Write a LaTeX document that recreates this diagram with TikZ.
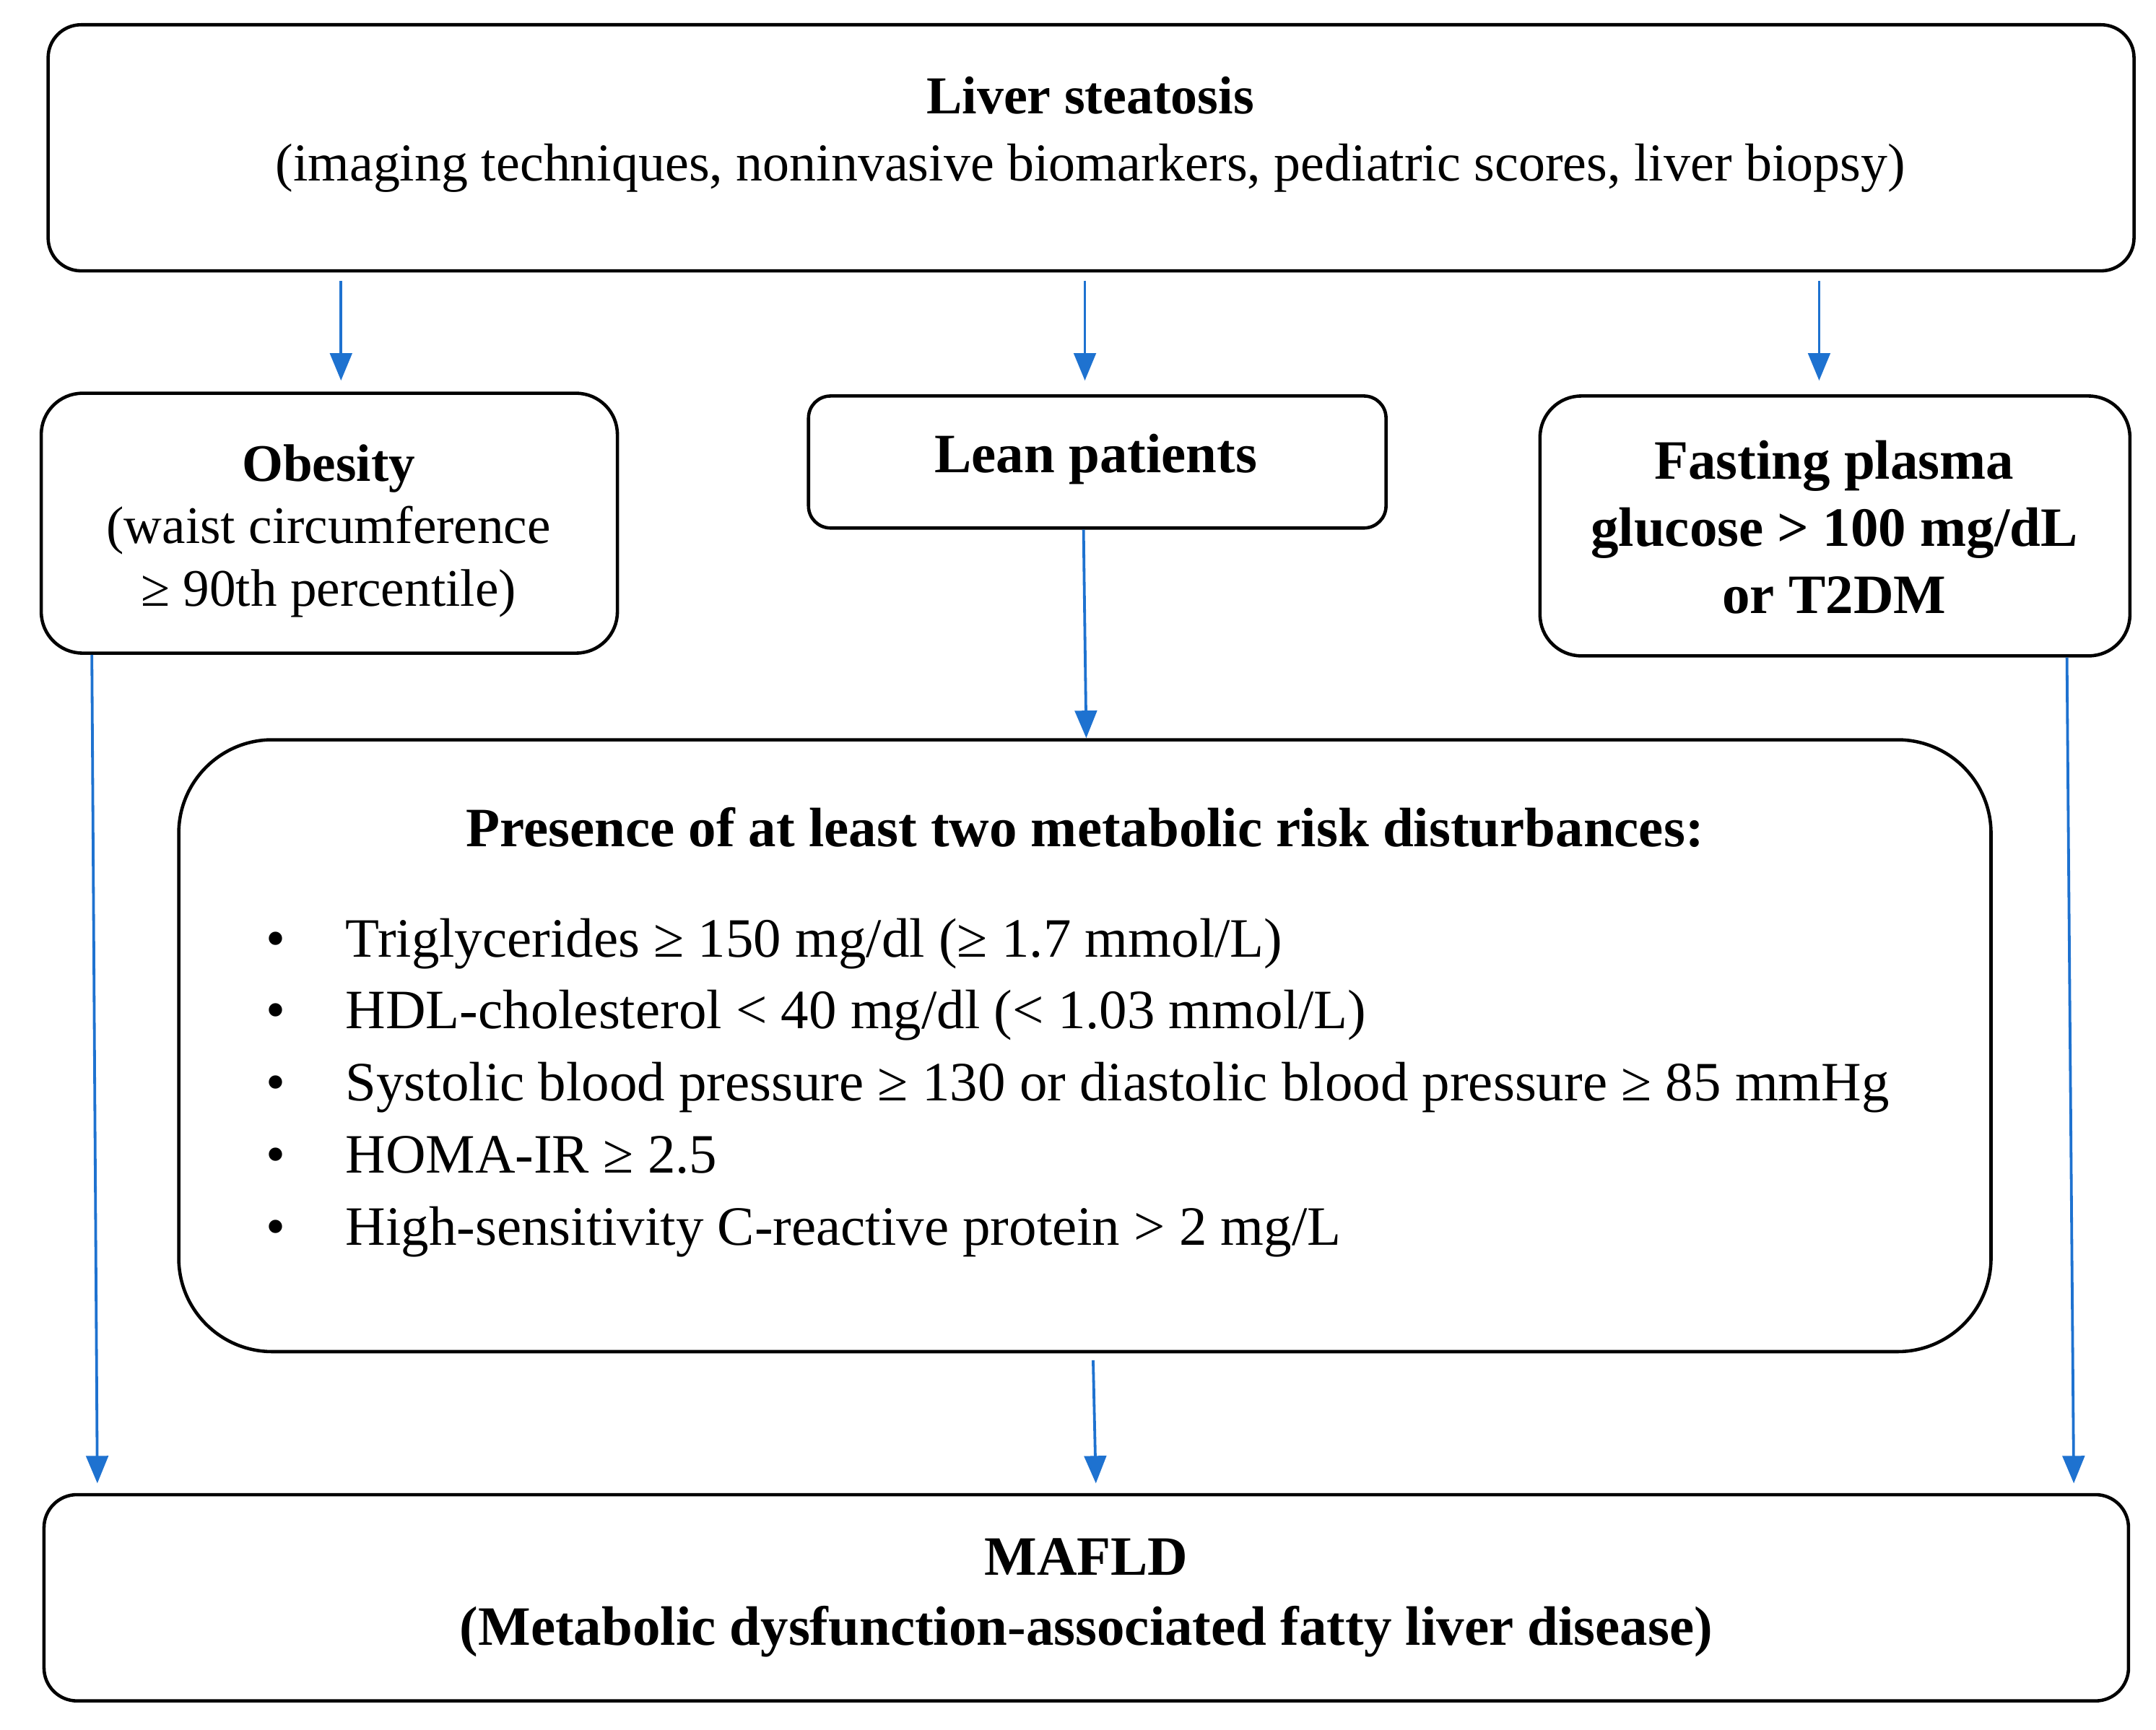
\documentclass[tikz,border=0pt]{standalone}
\usepackage{fontspec}
\setmainfont{Liberation Serif}
\usetikzlibrary{arrows.meta,calc}
\definecolor{arrblue}{RGB}{30,114,208}
\begin{document}
\begin{tikzpicture}[x=0.5pt,y=-0.5pt,
  box/.style={draw=black,line width=1.2pt,inner sep=0pt,fill=white},
  txt/.style={inner sep=0pt,align=center,font=\fontsize{20.2}{24.5}\selectfont},
  arr/.style={draw=arrblue,line width=1pt,-{Triangle[length=10pt,width=8pt]}}]
\useasboundingbox (0,0) rectangle (1568,1257.7);
% boxes
\node[box,rounded corners=12pt,minimum width=758.5pt,minimum height=89.5pt] (top) at (793.5,107.5) {};
\node[box,rounded corners=15pt,minimum width=209.5pt,minimum height=94.5pt] (ob) at (239.5,380.5) {};
\node[box,rounded corners=8pt,minimum width=210pt,minimum height=48pt] (lean) at (798,336) {};
\node[box,rounded corners=15pt,minimum width=214.5pt,minimum height=94.5pt] (fast) at (1334.5,382.5) {};
\node[box,rounded corners=34pt,minimum width=659pt,minimum height=222.5pt] (big) at (789,760.5) {};
\node[box,rounded corners=12pt,minimum width=758pt,minimum height=75pt] (mafld) at (790,1162) {};
% texts
\node[txt,font=\fontsize{19.4}{24.5}\selectfont] (toptxt) at (793,98) {\textbf{Liver steatosis}\\(imaging techniques, noninvasive biomarkers, pediatric scores, liver biopsy)};
\node[txt,font=\fontsize{19.2}{22.75}\selectfont] (obtxt) at (239,386) {\textbf{Obesity}\\(waist circumference\\≥ 90th percentile)};
\node[txt,font=\bfseries\fontsize{20.2}{24.5}\selectfont] (leantxt) at (797,334) {Lean patients};
\node[txt,font=\bfseries\fontsize{20.2}{24.5}\selectfont] (fasttxt) at (1334,383.5) {Fasting plasma\\glucose > 100 mg/dL\\or T2DM};
\node[txt,font=\bfseries\fontsize{20.2}{24.5}\selectfont] (bigtitle) at (789,602) {Presence of at least two metabolic risk disturbances:};
\node[txt,align=left,anchor=west,font=\fontsize{20.2}{26.2}\selectfont] (list) at (193,791) {%
\makebox[29pt][l]{•}Triglycerides ≥ 150 mg/dl (≥ 1.7 mmol/L)\\
\makebox[29pt][l]{•}HDL-cholesterol < 40 mg/dl (< 1.03 mmol/L)\\
\makebox[29pt][l]{•}Systolic blood pressure ≥ 130 or diastolic blood pressure ≥ 85 mmHg\\
\makebox[29pt][l]{•}HOMA-IR ≥ 2.5\\
\makebox[29pt][l]{•}High-sensitivity C-reactive protein > 2 mg/L};
\node[txt,font=\bfseries\fontsize{20.2}{25.5}\selectfont] (mafldtxt) at (790,1162) {MAFLD\\(Metabolic dysfunction-associated fatty liver disease)};
% arrows
\draw[arr] ($(top.south -| ob.north)+(4.25pt,-3pt)$) -- ($(ob.north)+(4.25pt,4pt)$);
\draw[arr] ($(top.south -| lean.north)+(-4.5pt,-3pt)$) -- ($(lean.north)+(-4.5pt,5pt)$);
\draw[arr] ($(top.south -| fast.north)+(-5.75pt,-3pt)$) -- ($(fast.north)+(-5.75pt,5pt)$);
\draw[arr] ($(lean.south)+(-5pt,0)$) -- ($(big.north)+(0.5pt,0)$);
\draw[arr] ($(ob.south west)+(19pt,0)$) -- ($(mafld.north west)+(20pt,3.5pt)$);
\draw[arr] ($(big.south)+(3pt,-2.5pt)$) -- ($(mafld.north)+(3.5pt,3.5pt)$);
\draw[arr] ($(fast.south east)+(-23.5pt,0)$) -- ($(mafld.north east)+(-20.5pt,3.5pt)$);
\end{tikzpicture}
\end{document}
